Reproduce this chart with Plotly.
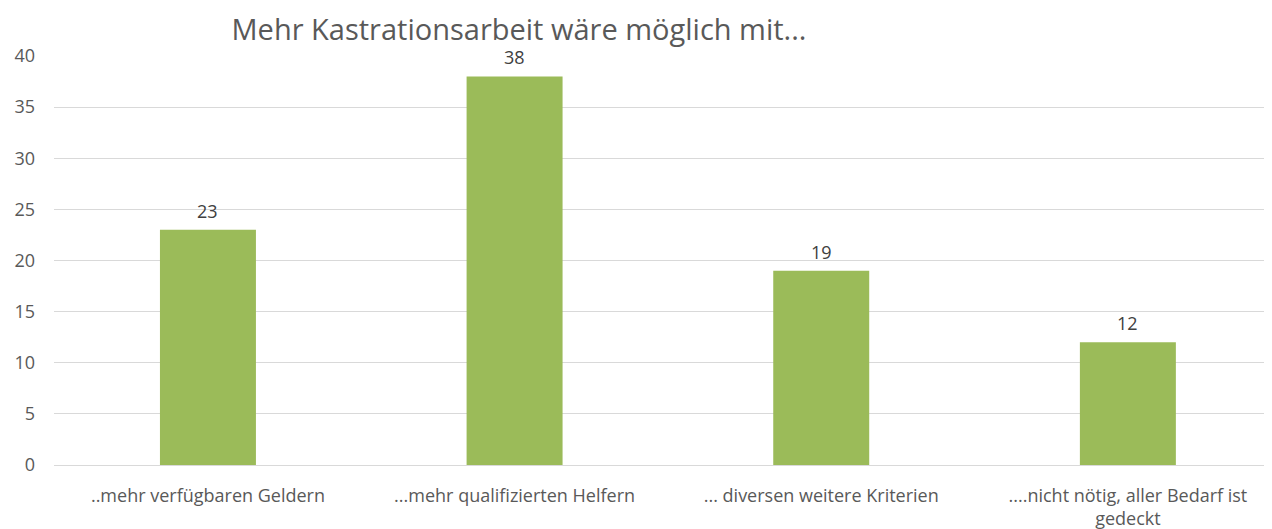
import plotly.graph_objects as go

categories = ["..mehr verfügbaren Geldern", "...mehr qualifizierten Helfern",
              "... diversen weitere Kriterien", "....nicht nötig, aller Bedarf ist<br>gedeckt"]
values = [23, 38, 19, 12]
y_ticks = [0, 5, 10, 15, 20, 25, 30, 35, 40]
title = "Mehr Kastrationsarbeit wäre möglich mit..."

FONT = "Open Sans"
W, H = 1264, 521  # page body has an 8px margin

x_pos = list(range(len(categories)))

fig = go.Figure(go.Bar(
    x=x_pos, y=values,
    width=0.313,
    marker=dict(color="#9BBB59", line=dict(width=0)),
    hoverinfo="skip",
))

for xv, v in zip(x_pos, values):
    fig.add_annotation(x=xv, y=v, text=str(v), showarrow=False,
                       yanchor="bottom", yshift=5,
                       font=dict(family=FONT, size=18, color="#404040"))

fig.update_layout(
    width=W, height=H,
    margin=dict(l=46, r=0, t=48, b=64, autoexpand=False),
    paper_bgcolor="white", plot_bgcolor="white",
    showlegend=False,
    title=dict(text=title, x=511 / W, xanchor="center", y=1 - 22 / H, yanchor="middle",
               font=dict(family=FONT, size=29, color="#595959")),
    xaxis=dict(
        tickmode="array", tickvals=x_pos, ticktext=categories,
        range=[-0.502, 3.47], showgrid=False, zeroline=False, showline=False,
        ticks="", tickfont=dict(family=FONT, size=18, color="#595959"),
        ticklabelstandoff=18, automargin=False,
    ),
    yaxis=dict(
        range=[0, 40], tickvals=y_ticks, showgrid=True, gridcolor="#D9D9D9", gridwidth=1,
        zeroline=True, zerolinecolor="#D9D9D9", zerolinewidth=1, showline=False,
        ticks="", tickfont=dict(family=FONT, size=18, color="#595959"),
        ticklabelstandoff=18, automargin=False,
    ),
)

fig.write_html("out.html")
